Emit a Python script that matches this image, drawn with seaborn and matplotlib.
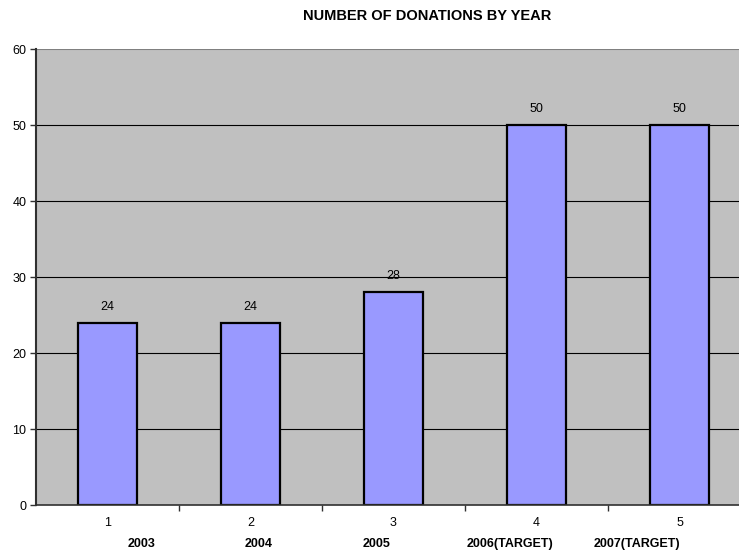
import matplotlib
matplotlib.use("Agg")
import matplotlib.pyplot as plt
import seaborn as sns
import pandas as pd

# Donation counts per year
categories = ["1", "2", "3", "4", "5"]
donations = [24, 24, 28, 50, 50]
year_labels = ["2003", "2004", "2005", "2006(TARGET)", "2007(TARGET)"]
# horizontal placement of the year captions, in category units
year_label_pos = [0.235, 1.06, 1.88, 2.815, 3.70]
y_ticks = [0, 10, 20, 30, 40, 50, 60]

sns.set_style("white")
plt.rcParams["font.family"] = ["Liberation Sans", "DejaVu Sans"]
plt.rcParams["text.color"] = "black"
plt.rcParams["xtick.color"] = "black"
plt.rcParams["ytick.color"] = "black"

df = pd.DataFrame({"cat": categories, "n": donations})

fig = plt.figure(figsize=(7.39, 5.52), dpi=100)
ax = fig.add_axes([36 / 739, 1 - 505 / 552, 715 / 739, 456 / 552])
ax.set_facecolor("#C0C0C0")

sns.barplot(data=df, x="cat", y="n", ax=ax, color="#9999FF", saturation=1,
            width=0.41, edgecolor="black", linewidth=1.6, zorder=3)

ax.set_xlim(-0.5, 4.5)
ax.set_ylim(0, 60)
ax.set_yticks(y_ticks)
ax.set_yticklabels([str(t) for t in y_ticks])
ax.set_xlabel("")
ax.set_ylabel("")

# horizontal gridlines
for t in y_ticks[1:-1]:
    ax.axhline(t, color="black", linewidth=0.8, zorder=1)
ax.axhline(60, color="#808080", linewidth=1.5, zorder=1)

for side in ["top", "right"]:
    ax.spines[side].set_visible(False)
ax.spines["left"].set_color("#303030")
ax.spines["left"].set_linewidth(1.5)
ax.spines["bottom"].set_color("#303030")
ax.spines["bottom"].set_linewidth(1.2)
ax.spines["left"].set_zorder(4)
ax.spines["bottom"].set_zorder(4)

ax.tick_params(axis="y", direction="out", length=4, width=1, color="#303030",
               pad=3, labelsize=9, left=True, labelcolor="black")
ax.set_xticks(range(len(categories)))
ax.set_xticklabels(categories)
ax.tick_params(axis="x", which="major", length=0, pad=9, labelsize=9,
               labelcolor="black")
ax.set_xticks([0.5, 1.5, 2.5, 3.5], minor=True)
ax.tick_params(axis="x", which="minor", direction="out", length=4, width=1,
               color="#303030", bottom=True)

# value labels above bars
for cont in ax.containers:
    ax.bar_label(cont, labels=[str(v) for v in donations], padding=7,
                 fontsize=9, color="black")

# year captions below the category numbers
for x, lab in zip(year_label_pos, year_labels):
    ax.text(x, -0.086, lab, transform=ax.get_xaxis_transform(),
            ha="center", va="center", fontsize=9, fontweight="bold",
            color="black")

fig.text(427 / 739, 1 - 16 / 552, "NUMBER OF DONATIONS BY YEAR",
         ha="center", va="center", fontsize=10.5, fontweight="bold",
         color="black")

fig.savefig("out.png", dpi=100)
